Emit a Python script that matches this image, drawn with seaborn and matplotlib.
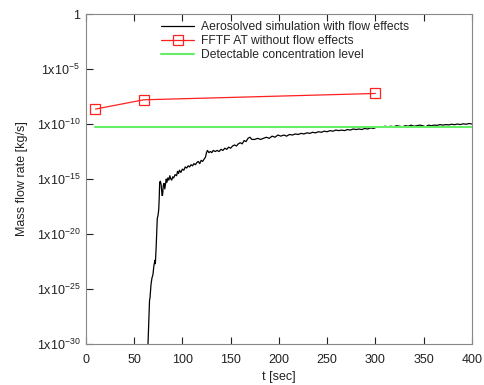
import numpy as np
import pandas as pd
import matplotlib
matplotlib.use("Agg")
import matplotlib.pyplot as plt
import seaborn as sns

# --- data ---
# black curve: time [s] and log10 of mass flow rate
sim_t = [64.0, 65.5, 66.0, 66.5, 67.5, 68.5, 69.5, 70.5, 71.5, 72.0, 72.8, 73.5,
         74.0, 74.8, 75.5, 76.0, 76.5, 77.2, 78.0, 78.5, 79.0, 79.6, 80.2, 81.0,
         81.8, 82.5, 83.3, 84.0, 85.0, 86.0, 87.0, 88.0, 89.0, 90.0, 91.0, 92.5,
         94.0, 95.0, 96.0, 97.0, 98.5, 100, 101.5, 103, 104.5, 106, 107.5, 109,
         110.5, 112, 113.5, 115, 116.5, 118, 119.5, 121, 122.5, 124, 125, 126,
         127.5, 129, 130.5, 132, 134, 136, 138, 140, 142, 144, 146, 148, 150, 152,
         154, 156, 158, 160, 162, 164, 166, 168, 170, 172, 175, 178, 181, 184, 187,
         190, 193, 196, 199, 202, 205, 208, 211, 214, 217, 220, 223, 226, 229, 232,
         235, 238, 241, 244, 247, 250, 253, 256, 259, 262, 265, 268, 271, 274, 277,
         280, 283, 286, 289, 292, 295, 298, 301, 304, 307, 310, 313, 316, 319, 322,
         325, 328, 331, 334, 337, 340, 343, 346, 349, 352, 355, 358, 361, 364, 367,
         370, 373, 376, 379, 382, 385, 388, 391, 394, 397, 400]
sim_log = [-31, -27.2, -26.0, -25.8, -24.6, -24.0, -23.7, -22.9, -22.4, -22.7, -21.3, -19.6,
           -18.6, -18.3, -17.8, -16.8, -15.3, -15.2, -15.5, -16.0, -16.5, -16.4, -15.6, -15.4,
           -15.9, -15.5, -15.0, -15.3, -14.9, -15.1, -14.7, -15.0, -15.1, -14.8, -14.9, -14.6,
           -14.7, -14.3, -14.5, -14.2, -14.4, -14.1, -14.2, -13.9, -14.0, -13.8, -13.9, -13.7,
           -13.8, -13.6, -13.7, -13.5, -13.4, -13.6, -13.3, -13.4, -13.2, -13.0, -12.6, -12.4,
           -12.6, -12.5, -12.6, -12.4, -12.5, -12.4, -12.5, -12.3, -12.4, -12.2, -12.3, -12.1,
           -12.2, -12.0, -11.9, -12.0, -11.8, -11.7, -11.8, -11.5, -11.6, -11.3, -11.2, -11.4,
           -11.4, -11.3, -11.4, -11.3, -11.2, -11.3, -11.1, -11.2, -11.0, -11.1, -11.0, -11.1,
           -10.95, -11.0, -10.9, -10.95, -10.85, -10.9, -10.8, -10.85, -10.75, -10.8, -10.7,
           -10.75, -10.65, -10.7, -10.6, -10.65, -10.55, -10.6, -10.55, -10.6, -10.5, -10.55,
           -10.45, -10.5, -10.45, -10.5, -10.4, -10.45, -10.35, -10.4, -10.3, -10.25, -10.3,
           -10.2, -10.25, -10.2, -10.25, -10.15, -10.2, -10.25, -10.15, -10.2, -10.1, -10.2,
           -10.15, -10.1, -10.15, -10.25, -10.1, -10.15, -10.1, -10.12, -10.05, -10.1, -10.05,
           -10.08, -10.02, -10.06, -10.0, -10.05, -9.98, -10.02, -9.95, -10.0]

# red squares: FFTF AT without flow effects
fftf_t = [10, 60, 300]
fftf_val = [2.3e-9, 1.6e-8, 6.0e-8]

# green line: detectable concentration level
detect_t = [10, 400]
detect_val = [5.6e-11, 5.6e-11]

y_ticks = [1e-30, 1e-25, 1e-20, 1e-15, 1e-10, 1e-5, 1]
y_ticklabels = [r"1x10$^{-30}$", r"1x10$^{-25}$", r"1x10$^{-20}$", r"1x10$^{-15}$",
                r"1x10$^{-10}$", r"1x10$^{-5}$", "1"]
x_ticks = [0, 50, 100, 150, 200, 250, 300, 350, 400]

sim = pd.DataFrame({"t": sim_t, "rate": 10.0 ** np.array(sim_log)})
fftf = pd.DataFrame({"t": fftf_t, "rate": fftf_val})
detect = pd.DataFrame({"t": detect_t, "rate": detect_val})

sns.set_style("white")
plt.rcParams["font.family"] = ["Liberation Sans", "DejaVu Sans"]
plt.rcParams["mathtext.fontset"] = "custom"
plt.rcParams["mathtext.rm"] = "Liberation Sans"
plt.rcParams["mathtext.it"] = "Liberation Sans"

fig = plt.figure(figsize=(4.85, 3.85), dpi=100)
ax = fig.add_axes([0.177, 0.1065, 0.796, 0.857])

sns.lineplot(data=sim, x="t", y="rate", ax=ax, color="black", lw=0.9,
             label="Aerosolved simulation with flow effects", sort=False)
sns.lineplot(data=fftf, x="t", y="rate", ax=ax, color="#ff2020", lw=0.9,
             marker="s", markersize=6.5, markerfacecolor="none",
             markeredgecolor="#ff2020", markeredgewidth=0.9,
             label="FFTF AT without flow effects")
sns.lineplot(data=detect, x="t", y="rate", ax=ax, color="#66ee66", lw=1.5,
             label="Detectable concentration level")

ax.set_yscale("log")
ax.set_xlim(0, 400)
ax.set_ylim(1e-30, 1)
ax.set_yticks(y_ticks)
ax.set_yticklabels(y_ticklabels)
ax.yaxis.set_minor_locator(matplotlib.ticker.NullLocator())
ax.set_xticks(x_ticks)
ax.tick_params(axis="both", direction="in", length=5, width=0.8, labelsize=9,
               colors="#222222")
ax.tick_params(axis="x", top=True, bottom=True, pad=7)
ax.tick_params(axis="y", left=True, pad=4)
for s in ax.spines.values():
    s.set_color("#888888")
    s.set_linewidth(0.8)

ax.set_xlabel("t [sec]", fontsize=9, color="#222222", labelpad=4)
ax.set_ylabel("Mass flow rate [kg/s]", fontsize=9, color="#222222", labelpad=6)

ax.legend(loc="upper right", frameon=False, fontsize=8.7, handlelength=2.7,
          borderaxespad=0.2, labelspacing=0.15, handletextpad=0.55,
          bbox_to_anchor=(0.855, 1.0))

fig.savefig("out.png", dpi=100)
